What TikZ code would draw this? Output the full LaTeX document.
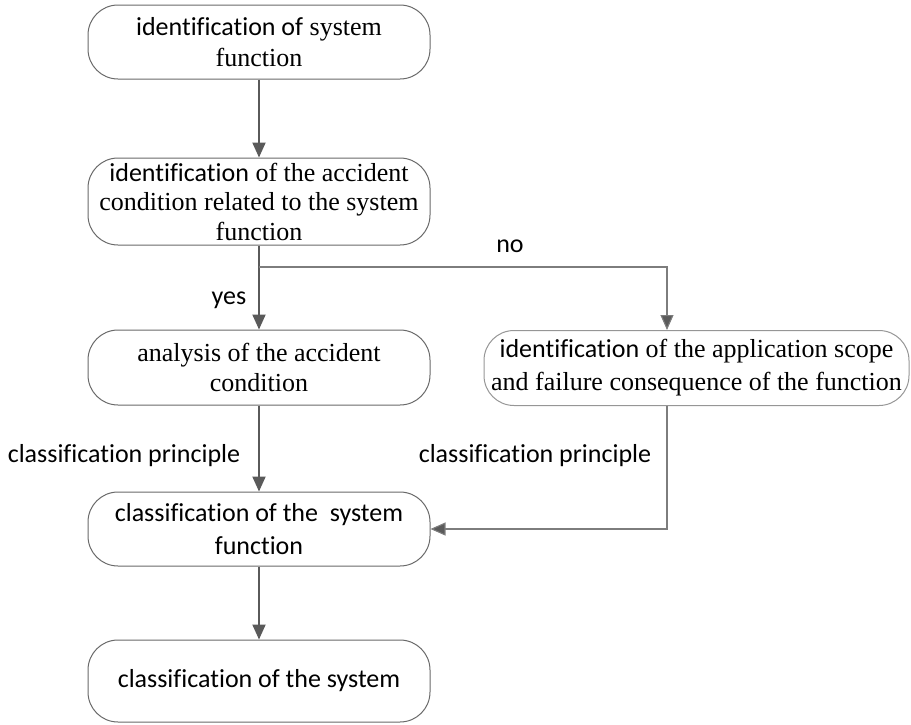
\documentclass[tikz,border=0pt]{standalone}
\usepackage{fontspec}
\setmainfont{Liberation Serif}
\newfontfamily\cb[Ligatures={NoCommon,NoRare,NoContextual}]{Carlito}
\usetikzlibrary{arrows.meta,calc}
\definecolor{boxline}{RGB}{105,105,105}
\definecolor{boxlinelight}{RGB}{150,150,150}
\definecolor{flowline}{RGB}{90,90,90}
\definecolor{sideline}{RGB}{125,125,125}
\tikzset{
  stepbox/.style={draw=boxline, line width=1pt, rounded corners=30pt,
    minimum width=342pt, inner sep=0pt, align=center,
    font=\fontsize{26}{31}\selectfont},
  mainflow/.style={draw=flowline, line width=2pt,
    -{Triangle[length=15pt,width=13pt]}},
  sideflow/.style={draw=sideline, line width=1.1pt,
    -{Triangle[length=15pt,width=13pt,fill=flowline]}},
  lbl/.style={font=\cb\fontsize{26}{31}\selectfont, inner sep=0pt}
}
\begin{document}
\begin{tikzpicture}[x=1pt,y=-1pt]
\useasboundingbox (0,0) rectangle (911,724);

% process boxes
\node[stepbox, minimum height=74pt] (b1) at (259,42)
  {{\cb identification of} system\\function};
\node[stepbox, minimum height=87pt, font=\fontsize{26}{29.5}\selectfont] (b2) at (259,201.5)
  {{\cb identification} of the accident\\condition related to the system\\function};
\node[stepbox, minimum height=75pt, font=\fontsize{26}{30}\selectfont] (b3) at (259,367.5)
  {analysis of the accident\\condition};
\node[stepbox, draw=boxlinelight, minimum width=425pt, minimum height=75pt,
      font=\fontsize{26}{33}\selectfont] (b4) at (696.5,368)
  {{\cb identification} of the application scope\\and failure consequence of the function};
\node[stepbox, minimum height=74pt, font=\cb\fontsize{26}{33}\selectfont] (b5) at (259,529)
  {classification of the\ \ system\\function};
\node[stepbox, minimum height=82pt, font=\cb\fontsize{26}{31}\selectfont] (b6) at (259,681)
  {classification of the system};

% junctions on the "no" branch
\coordinate (split) at (259,267);
\coordinate (side) at (667,267);

% connectors
\draw[mainflow] (b1) -- (b2);
\draw[mainflow] (b2) -- (b3);
\draw[mainflow] (b3) -- (b5);
\draw[mainflow] (b5) -- (b6);
\draw[sideflow] (split) -- (side) -- (side |- b4.north);
\draw[sideflow] (side |- b4.south) |- (b5.east);

% connector labels
\node[lbl] (no) at (510,246) {no};
\node[lbl] (yes) at (229,300) {yes};
\node[lbl] (cpl) at (124,456) {classification principle};
\node[lbl] (cpr) at (535,456) {classification principle};
\end{tikzpicture}
\end{document}
